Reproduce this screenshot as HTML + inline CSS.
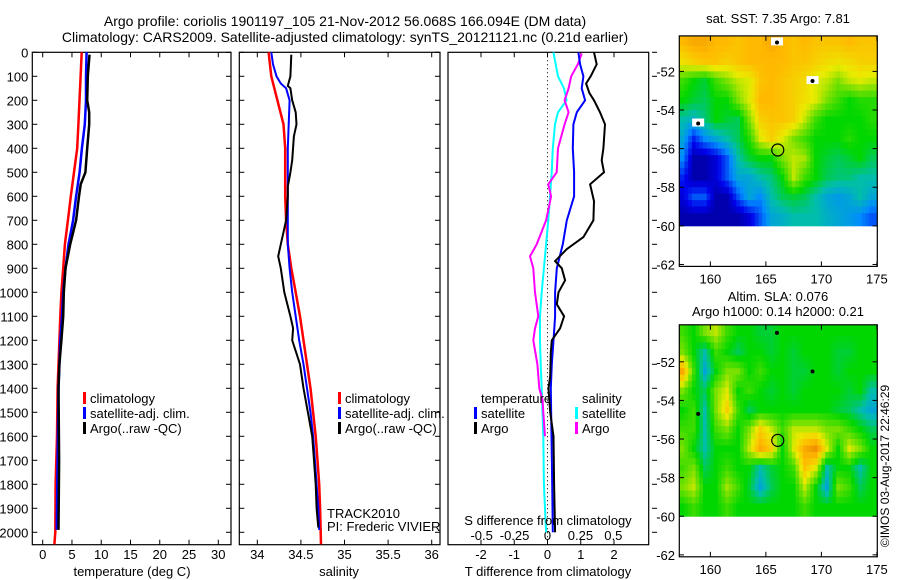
<!DOCTYPE html>
<html><head><meta charset="utf-8"><style>
body{margin:0;background:#fff}
svg{display:block;font-family:"Liberation Sans",sans-serif}
text{fill:#000}
</style></head><body>
<svg id="fig" width="900" height="580" viewBox="0 0 900 580" xmlns="http://www.w3.org/2000/svg">
<text x="345" y="26" font-size="14" text-anchor="middle">Argo profile: coriolis 1901197_105 21-Nov-2012 56.068S 166.094E (DM data)</text>
<text x="345" y="42" font-size="14" text-anchor="middle">Climatology: CARS2009. Satellite-adjusted climatology: synTS_20121121.nc (0.21d earlier)</text>
<g id="g1"></g>
<g id="g2"></g>
<g id="g3"></g>
<g id="m1"></g>
<g id="m2"></g>
<text transform="translate(889,466) rotate(-90)" font-size="12" text-anchor="middle">©IMOS 03-Aug-2017 22:46:29</text>
</svg>
<script>
// ---- data ----
const depthTicks=[0,100,200,300,400,500,600,700,800,900,1000,1100,1200,1300,1400,1500,1600,1700,1800,1900,2000];
const tTicks=[0,5,10,15,20,25,30];
const sTicks=[34,34.5,35,35.5,36];
const dTTicks=[-2,-1,0,1,2];
const dSTicks=[-0.5,-0.25,0,0.25,0.5];
const tClimDepth=[0,300,400,500,600,700,800,900,1000,1100,1200,1300,1400,1600,1800,2000,2050];
const tClim=[6.66,6.1,5.9,5.35,4.8,4.3,3.8,3.5,3.2,3.0,2.85,2.7,2.55,2.45,2.2,2.15,2.0];
const tSatDepth=[0,100,200,300,400,500,600,700,800,900,1000,1100,1200,1300,1400,1600,1800,1990];
const tSat=[7.5,7.4,7.4,7.2,6.7,6.3,5.7,5.2,4.4,3.9,3.5,3.3,3.0,2.85,2.7,2.6,2.5,2.4];
const tArgoDepth=[10,100,200,250,300,400,500,550,600,700,800,900,1000,1100,1200,1300,1400,1700,1990];
const tArgo=[8.0,7.7,7.6,7.95,7.95,7.6,7.3,6.5,6.2,5.7,4.7,3.9,3.6,3.5,3.2,2.85,2.7,2.8,2.7];
const sClimDepth=[0,100,200,300,400,500,600,700,800,900,1000,1100,1200,1300,1400,1500,1600,1700,1800,1900,2050];
const sClim=[34.13,34.16,34.23,34.30,34.32,34.32,34.32,34.33,34.35,34.39,34.44,34.49,34.53,34.57,34.61,34.64,34.67,34.69,34.71,34.72,34.73];
const sSatDepth=[0,50,100,130,150,200,300,400,500,600,800,900,1000,1100,1200,1300,1400,1500,1600,1700,1800,1900,1990];
const sSat=[34.16,34.18,34.22,34.27,34.33,34.37,34.36,34.35,34.35,34.35,34.35,34.37,34.40,34.44,34.48,34.53,34.57,34.61,34.64,34.66,34.68,34.70,34.71];
const sArgoDepth=[10,100,140,150,200,250,300,350,450,500,560,600,700,800,850,900,1000,1100,1150,1200,1300,1400,1500,1600,1700,1800,1900,1980];
const sArgo=[34.39,34.38,34.35,34.38,34.40,34.44,34.45,34.42,34.40,34.38,34.35,34.35,34.33,34.27,34.24,34.27,34.31,34.38,34.41,34.40,34.49,34.53,34.58,34.63,34.65,34.67,34.68,34.70];
const dTSatDepth=[0,50,100,150,200,250,300,400,500,600,700,800,900,1000,1100,1200,1300,1400,1600,1800,2000];
const dTSat=[0.93,0.98,1.08,1.03,1.13,0.88,0.78,0.76,0.80,0.80,0.58,0.46,0.28,0.23,0.23,0.18,0.13,0.10,0.12,0.14,0.16];
const dTArgoDepth=[0,50,100,130,170,200,250,300,400,450,500,550,620,700,770,820,870,900,950,1000,1050,1100,1150,1200,1250,1350,1400,1500,1600,1800,2000];
const dTArgo=[1.40,1.48,1.30,1.16,1.26,1.40,1.58,1.73,1.68,1.63,1.70,1.28,1.40,1.38,1.08,0.58,0.23,0.43,0.53,0.33,0.28,0.50,0.38,0.13,0.10,0.08,0.03,0.08,0.18,0.20,0.23];
const dSSatDepth=[0,100,150,200,250,300,400,500,600,700,800,900,1000,1100,1200,1300,1400,1600,1800,2000];
const dSSat=[0.045,0.08,0.125,0.145,0.08,0.057,0.04,0.032,0.019,0.006,-0.011,-0.027,-0.044,-0.057,-0.057,-0.052,-0.044,-0.032,-0.027,-0.011];
const dSArgoDepth=[5,50,100,150,200,250,300,400,500,550,600,700,800,850,900,1000,1100,1150,1200,1300,1400,1450,1500,1600];
const dSArgo=[0.26,0.23,0.18,0.16,0.13,0.16,0.13,0.08,0.07,0.006,0.027,-0.011,-0.082,-0.133,-0.108,-0.095,-0.07,-0.095,-0.108,-0.077,-0.062,-0.037,-0.032,-0.019];
const mapLonTicks=[160,165,170,175];
const mapLatTicks=[52,54,56,58,60,62];
const sstGrid=[
[0.72,0.75,0.75,0.72,0.72,0.7,0.72,0.72,0.75,0.72,0.7,0.72,0.7,0.7,0.7,0.72,0.7,0.7],
[0.65,0.68,0.7,0.7,0.68,0.7,0.72,0.72,0.72,0.72,0.7,0.7,0.68,0.66,0.65,0.66,0.68,0.68],
[0.5,0.45,0.42,0.5,0.55,0.6,0.62,0.7,0.72,0.7,0.68,0.66,0.62,0.6,0.55,0.6,0.62,0.6],
[0.45,0.42,0.4,0.45,0.45,0.55,0.62,0.72,0.72,0.7,0.68,0.65,0.62,0.55,0.5,0.45,0.48,0.48],
[0.35,0.32,0.38,0.45,0.42,0.4,0.55,0.68,0.7,0.7,0.68,0.6,0.5,0.45,0.45,0.45,0.45,0.48],
[0.3,0.15,0.25,0.3,0.35,0.4,0.48,0.62,0.68,0.62,0.55,0.5,0.45,0.45,0.45,0.48,0.45,0.45],
[0.25,0.05,0.05,0.1,0.2,0.35,0.42,0.45,0.45,0.55,0.6,0.58,0.45,0.42,0.4,0.42,0.45,0.4],
[0.15,0.05,0.05,0.1,0.2,0.3,0.3,0.35,0.38,0.45,0.6,0.5,0.45,0.4,0.38,0.38,0.35,0.35],
[0.1,0.2,0.2,0.05,0.05,0.2,0.3,0.25,0.35,0.4,0.42,0.4,0.35,0.3,0.28,0.3,0.35,0.3],
[0.05,0.05,0.05,0.05,0.05,0.05,0.1,0.2,0.3,0.32,0.35,0.35,0.35,0.32,0.3,0.28,0.25,0.2]];
const slaGrid=[
[0.5,0.45,0.55,0.6,0.5,0.45,0.45,0.42,0.42,0.45,0.45,0.45,0.45,0.45,0.45,0.45,0.45,0.45],
[0.55,0.45,0.35,0.5,0.45,0.4,0.45,0.45,0.42,0.45,0.42,0.45,0.45,0.45,0.42,0.42,0.45,0.45],
[0.75,0.5,0.3,0.45,0.55,0.55,0.45,0.5,0.45,0.45,0.42,0.42,0.45,0.45,0.42,0.45,0.45,0.45],
[0.55,0.45,0.4,0.55,0.62,0.45,0.5,0.45,0.42,0.45,0.42,0.45,0.45,0.45,0.45,0.42,0.45,0.35],
[0.45,0.5,0.35,0.55,0.68,0.5,0.4,0.45,0.45,0.45,0.45,0.45,0.45,0.45,0.42,0.4,0.35,0.3],
[0.5,0.5,0.35,0.5,0.55,0.45,0.55,0.68,0.6,0.5,0.6,0.6,0.6,0.55,0.55,0.5,0.45,0.4],
[0.55,0.45,0.35,0.45,0.45,0.45,0.6,0.75,0.68,0.45,0.62,0.75,0.8,0.62,0.45,0.62,0.55,0.45],
[0.5,0.55,0.4,0.45,0.5,0.45,0.45,0.35,0.42,0.45,0.5,0.7,0.62,0.35,0.45,0.45,0.35,0.45],
[0.55,0.6,0.45,0.45,0.58,0.5,0.42,0.3,0.4,0.45,0.45,0.6,0.45,0.3,0.55,0.5,0.4,0.45],
[0.45,0.5,0.45,0.45,0.5,0.45,0.45,0.45,0.45,0.45,0.45,0.5,0.45,0.45,0.45,0.45,0.45,0.45]];
const argoLon=[166.07];
const argoLat=[56.07];
const otherLon=[166.0,169.2,158.9];
const otherLat=[50.5,52.5,54.7];

const NS="http://www.w3.org/2000/svg";
function mk(parent,tag,attrs,txt){const e=document.createElementNS(NS,tag);for(const k in attrs)e.setAttribute(k,attrs[k]);if(txt!==undefined)e.textContent=txt;parent.appendChild(e);return e;}
const TOP=52.3,BOT=544.7;
const yD=d=>TOP+d*0.24;

function frame(g,x0,x1,y0,y1){
  const r=mk(g,'rect',{x:x0,y:y0,width:x1-x0,height:y1-y0,fill:'none',stroke:'#000','stroke-width':1.2});
  
  
}
function depthAxis(g,x0,x1,labels){
  depthTicks.forEach(d=>{const y=yD(d);
    mk(g,'line',{x1:x0,x2:x0+5,y1:y,y2:y,stroke:'#000'});
    mk(g,'line',{x1:x1,x2:x1-5,y1:y,y2:y,stroke:'#000'});
    if(labels){const t=mk(g,'text',{x:x0-4,y:y+5,'font-size':13,'text-anchor':'end'},String(d));
      
      }
  });
}
function xAxis(g,ticks,sx,fmt,ly){
  ticks.forEach(v=>{const x=sx(v);
    mk(g,'line',{x1:x,x2:x,y1:BOT,y2:BOT-5,stroke:'#000'});
    mk(g,'line',{x1:x,x2:x,y1:TOP,y2:TOP+5,stroke:'#000'});
    const t=mk(g,'text',{x:x,y:ly,'font-size':13,'text-anchor':'middle'},fmt(v));
    
    
  });
}
function series(g,vals,depths,sx,color,w,name){
  const pts=vals.map((v,i)=>sx(v).toFixed(1)+','+yD(depths[i]).toFixed(1)).join(' ');
  const p=mk(g,'polyline',{points:pts,fill:'none',stroke:color,'stroke-width':w,'stroke-linejoin':'miter'});
  
  
}
function legend(g,x,y,items){
  items.forEach((it,i)=>{
    mk(g,'rect',{x:x-7,y:y+i*15-11,width:3,height:12,fill:it[1]});
    const t=mk(g,'text',{x:x,y:y+i*15,'font-size':13},it[0]);
    
    
  });
}
// Panel 1
const g1=document.getElementById('g1');
const sxT=v=>42.7+v*5.853;
frame(g1,32.3,231,TOP,BOT);depthAxis(g1,32.3,231,true);
xAxis(g1,tTicks,sxT,v=>String(v),559);
series(g1,tClim,tClimDepth,sxT,'#f00',2.5,'temp-climatology-line');
series(g1,tSat,tSatDepth,sxT,'#00f',2.5,'temp-satellite-line');
series(g1,tArgo,tArgoDepth,sxT,'#000',2.5,'temp-argo-line');
legend(g1,90,403,[['climatology','#f00'],['satellite-adj. clim.','#00f'],['Argo(..raw -QC)','#000']]);
mk(g1,'text',{x:132,y:576,'font-size':13,'text-anchor':'middle'},'temperature (deg C)');
// Panel 2
const g2=document.getElementById('g2');
const sxS=v=>257.3+(v-34)*87.2;
frame(g2,239.3,440,TOP,BOT);depthAxis(g2,239.3,440,false);
xAxis(g2,sTicks,sxS,v=>String(v),559);
series(g2,sClim,sClimDepth,sxS,'#f00',2.5,'sal-climatology-line');
series(g2,sSat,sSatDepth,sxS,'#00f',2,'sal-satellite-line');
series(g2,sArgo,sArgoDepth,sxS,'#000',2,'sal-argo-line');
legend(g2,345,403,[['climatology','#f00'],['satellite-adj. clim.','#00f'],['Argo(..raw -QC)','#000']]);
mk(g2,'text',{x:327,y:518,'font-size':13},'TRACK2010');
mk(g2,'text',{x:327,y:531,'font-size':13},'PI: Frederic VIVIER');
mk(g2,'text',{x:339,y:576,'font-size':13,'text-anchor':'middle'},'salinity');
// Panel 3
const g3=document.getElementById('g3');
const sxDT=v=>547.5+v*33.25, sxDS=v=>547.5+v*131.7;
frame(g3,448,648.7,TOP,BOT);
depthTicks.forEach(d=>{mk(g3,'line',{x1:652,x2:657,y1:yD(d),y2:yD(d),stroke:'#000'});});
xAxis(g3,dTTicks,sxDT,v=>String(v),559);
dSTicks.forEach(v=>{const t=mk(g3,'text',{x:sxDS(v),y:540,'font-size':13,'text-anchor':'middle'},String(v));
  
  });
mk(g3,'line',{x1:sxDT(0),x2:sxDT(0),y1:TOP,y2:BOT,stroke:'#000','stroke-dasharray':'1,3'});
series(g3,dSSat,dSSatDepth,sxDS,'#0ff',2,'sal-diff-satellite-line');
series(g3,dSArgo,dSArgoDepth,sxDS,'#f0f',2,'sal-diff-argo-line');
series(g3,dTSat,dTSatDepth,sxDT,'#00f',2,'temp-diff-satellite-line');
series(g3,dTArgo,dTArgoDepth,sxDT,'#000',2,'temp-diff-argo-line');
mk(g3,'text',{x:481,y:403,'font-size':13},'temperature');
legend(g3,481,418,[['satellite','#00f'],['Argo','#000']]);
mk(g3,'text',{x:582,y:403,'font-size':13},'salinity');
legend(g3,582,418,[['satellite','#0ff'],['Argo','#f0f']]);
mk(g3,'text',{x:548,y:525,'font-size':13,'text-anchor':'middle'},'S difference from climatology');
mk(g3,'text',{x:548,y:576,'font-size':13,'text-anchor':'middle'},'T difference from climatology');
// Maps
const cmapStops=[[0,[0,0,130]],[0.12,[0,0,235]],[0.25,[0,140,255]],[0.35,[0,190,170]],[0.45,[0,215,0]],[0.55,[120,225,0]],[0.63,[235,235,0]],[0.72,[255,185,0]],[0.85,[230,120,0]],[1,[200,60,0]]];
function cmap(v){v=Math.max(0,Math.min(1,v));
  for(let i=1;i<cmapStops.length;i++){if(v<=cmapStops[i][0]){const a=cmapStops[i-1],b=cmapStops[i],t=(v-a[0])/(b[0]-a[0]);
    return 'rgb('+a[1].map((c,k)=>Math.round(c+(b[1][k]-c)*t)).join(',')+')';}}
  return 'rgb(200,60,0)';}
function sample(grid,r,c){ // bilinear between cell centres
  const R=grid.length,C=grid[0].length;
  r=Math.max(0,Math.min(R-1,r));c=Math.max(0,Math.min(C-1,c));
  const r0=Math.floor(r),c0=Math.floor(c),r1=Math.min(R-1,r0+1),c1=Math.min(C-1,c0+1),fr=r-r0,fc=c-c0;
  return grid[r0][c0]*(1-fr)*(1-fc)+grid[r0][c1]*(1-fr)*fc+grid[r1][c0]*fr*(1-fc)+grid[r1][c1]*fr*fc;}
function map(id,grid,y52,top,bot,titles,white){
  const g=document.getElementById(id);
  const lx=l=>679.3+(l-157.2)*11.1, ly=la=>y52+(la-52)*((bot-y52)/10.1);
  const cid='clip'+id;
  const cp=mk(g,'clipPath',{id:cid});mk(cp,'rect',{x:679.3,y:top,width:198,height:bot-top});
  const cg=mk(g,'g',{'clip-path':'url(#'+cid+')'});
  const sub=3;
  for(let r=0;r<grid.length*sub;r++)for(let c=0;c<grid[0].length*sub;c++){
    const lon=157+c/sub, lat=50+r/sub;
    const v=sample(grid,(r+0.5)/sub-0.5,(c+0.5)/sub-0.5);
    const x=lx(lon),y=ly(lat);
    const cell=mk(cg,'rect',{x:x.toFixed(1),y:y.toFixed(1),width:(lx(lon+1/sub)-x+0.5).toFixed(1),height:(ly(lat+1/sub)-y+0.5).toFixed(1),fill:cmap(v)});
    
    
  }
  otherLon.forEach((l,i)=>{
    if(white) mk(g,'rect',{x:lx(l)-6,y:ly(otherLat[i])-5,width:12,height:8,fill:'#fff'});
    const m=mk(g,'circle',{cx:lx(l),cy:ly(otherLat[i]),r:2,fill:'#000'});
    
    
  });
  argoLon.forEach((l,i)=>{
    const c=mk(g,'circle',{cx:lx(l),cy:ly(argoLat[i]),r:6,fill:'none',stroke:'#000','stroke-width':1.2});
    
    
  });
  const fr=mk(g,'rect',{x:679.3,y:top,width:198,height:bot-top,fill:'none',stroke:'#000','stroke-width':1.2});
  
  
  mapLonTicks.forEach(l=>{const x=lx(l);
    mk(g,'line',{x1:x,x2:x,y1:bot,y2:bot-5,stroke:'#000'});mk(g,'line',{x1:x,x2:x,y1:top,y2:top+5,stroke:'#000'});
    const t=mk(g,'text',{x:x,y:bot+17,'font-size':13,'text-anchor':'middle'},String(l));
    
    });
  mapLatTicks.forEach(la=>{const y=ly(la);
    mk(g,'line',{x1:679.3,x2:684,y1:y,y2:y,stroke:'#000'});mk(g,'line',{x1:877.3,x2:872.5,y1:y,y2:y,stroke:'#000'});
    const t=mk(g,'text',{x:675,y:y+5,'font-size':13,'text-anchor':'end'},'-'+la);
    
    });
  titles.forEach((s,i)=>mk(g,'text',{x:778,y:titles.length==1?top-13:top-24+i*15,'font-size':13,'text-anchor':'middle'},s));
}
map('m1',sstGrid,71.4,35.9,266.4,['sat. SST: 7.35 Argo: 7.81'],true);
map('m2',slaGrid,361.8,324.8,556.8,['Altim. SLA: 0.076','Argo h1000: 0.14 h2000: 0.21'],false);
</script>
</body></html>
